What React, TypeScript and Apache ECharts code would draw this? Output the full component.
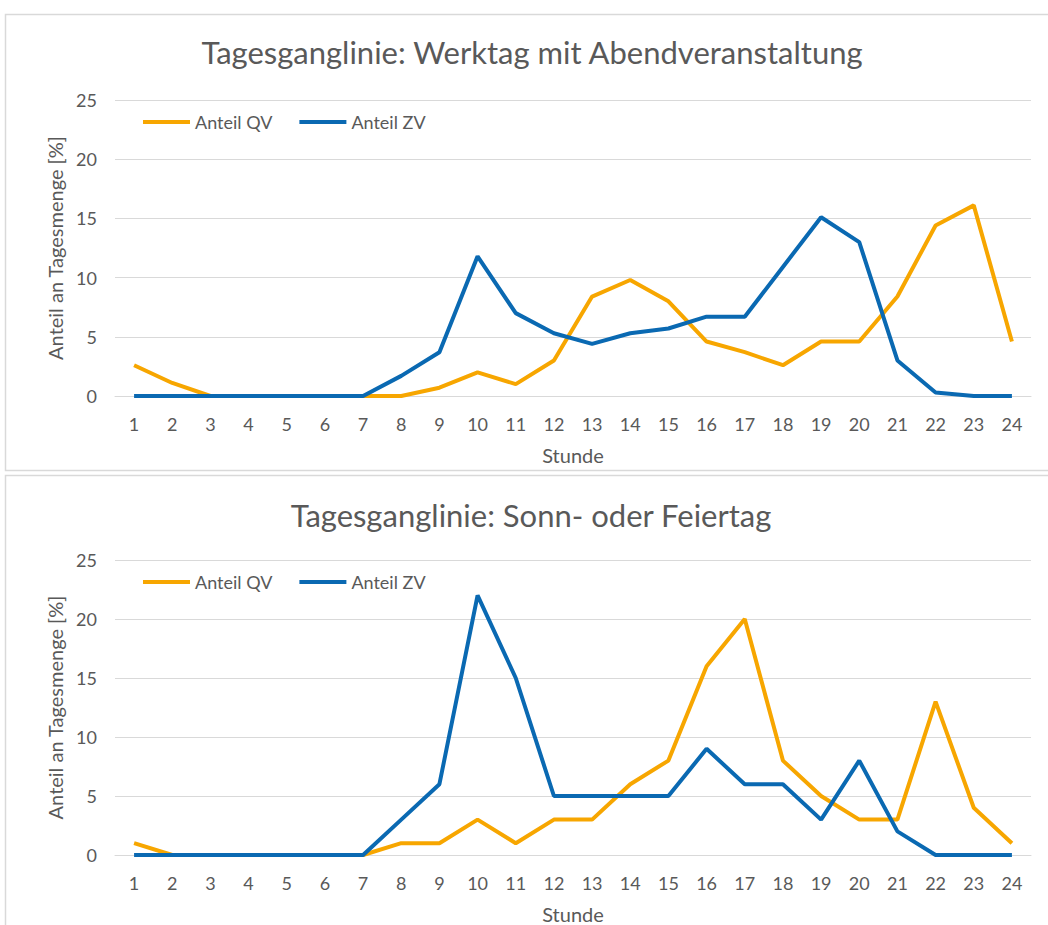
import React, { useEffect, useRef } from "react";
import * as echarts from "echarts";

const hours = ["1","2","3","4","5","6","7","8","9","10","11","12","13","14","15","16","17","18","19","20","21","22","23","24"];
const titleTop = "Tagesganglinie: Werktag mit Abendveranstaltung";
const titleBottom = "Tagesganglinie: Sonn- oder Feiertag";
const qvWerktag = [2.6, 1.1, 0, 0, 0, 0, 0, 0, 0.7, 2, 1, 3, 8.4, 9.8, 8, 4.6, 3.7, 2.6, 4.6, 4.6, 8.4, 14.4, 16.1, 4.6];
const zvWerktag = [0, 0, 0, 0, 0, 0, 0, 1.7, 3.7, 11.8, 7, 5.3, 4.4, 5.3, 5.7, 6.7, 6.7, 10.9, 15.1, 13, 3, 0.3, 0, 0];
const qvSonntag = [1, 0, 0, 0, 0, 0, 0, 1, 1, 3, 1, 3, 3, 6, 8, 16, 20, 8, 5, 3, 3, 13, 4, 1];
const zvSonntag = [0, 0, 0, 0, 0, 0, 0, 3, 6, 22, 15, 5, 5, 5, 5, 9, 6, 6, 3, 8, 2, 0, 0, 0];
const seriesNames = ["Anteil QV", "Anteil ZV"];
const yTicks = { min: 0, max: 25, interval: 5 };

const ORANGE = "#F7A600";
const BLUE = "#0A69B2";
const TXT = "#595959";
const GRID = "#d9d9d9";
const FONT = "Lato";

export default function App() {
  const ref = useRef<HTMLDivElement>(null);
  useEffect(() => {
    document.body.style.margin = "0";
    const chart = echarts.init(ref.current!, null, { renderer: "svg" });
    const grids = [
      { left: 115, top: 100, width: 916, height: 296 },
      { left: 115, top: 560, width: 916, height: 297 },
    ];
    const xAxis = grids.map((_, i) => ({
      type: "category",
      gridIndex: i,
      data: hours,
      boundaryGap: true,
      name: "Stunde",
      nameLocation: "middle",
      nameGap: 49,
      nameTextStyle: { color: TXT, fontSize: 20, fontFamily: FONT },
      axisLine: { show: true, lineStyle: { color: GRID, width: 1 } },
      axisTick: { show: false },
      axisLabel: { color: TXT, fontSize: 18, fontFamily: FONT, margin: 19 },
    }));
    const yAxis = grids.map((_, i) => ({
      type: "value",
      gridIndex: i,
      min: yTicks.min,
      max: yTicks.max,
      interval: yTicks.interval,
      name: "Anteil an Tagesmenge [%]",
      nameLocation: "middle",
      nameGap: 50,
      nameTextStyle: { color: TXT, fontSize: 20, fontFamily: FONT },
      axisLine: { show: false },
      axisTick: { show: false },
      splitLine: { lineStyle: { color: GRID, width: 1 } },
      axisLabel: { color: TXT, fontSize: 18, fontFamily: FONT, margin: 18 },
    }));
    const mk = (name: string, data: number[], color: string, idx: number) => ({
      type: "line",
      name,
      data,
      xAxisIndex: idx,
      yAxisIndex: idx,
      symbol: "none",
      color,
      lineStyle: { color, width: 4 },
    });
    const legendCommon = {
      left: 143,
      orient: "horizontal",
      icon: "rect",
      itemWidth: 47,
      itemHeight: 4,
      itemGap: 27,
      padding: 0,
      textStyle: { color: TXT, fontSize: 18, fontFamily: FONT, padding: [0, 0, 0, 0] },
      data: seriesNames,
    };
    chart.setOption({
      animation: false,
      backgroundColor: "#ffffff",
      title: [
        {
          text: titleTop, left: 532, top: 34, textAlign: "center", padding: 0,
          textStyle: { color: TXT, fontSize: 31, fontWeight: "normal", fontFamily: FONT, lineHeight: 36 },
        },
        {
          text: titleBottom, left: 531, top: 497, textAlign: "center", padding: 0,
          textStyle: { color: TXT, fontSize: 31, fontWeight: "normal", fontFamily: FONT, lineHeight: 36 },
        },
      ],
      legend: [
        { ...legendCommon, top: 113 },
        { ...legendCommon, top: 573 },
      ],
      grid: grids,
      xAxis,
      yAxis,
      series: [
        mk(seriesNames[0], qvWerktag, ORANGE, 0),
        mk(seriesNames[1], zvWerktag, BLUE, 0),
        mk(seriesNames[0], qvSonntag, ORANGE, 1),
        mk(seriesNames[1], zvSonntag, BLUE, 1),
      ],
      graphic: [
        { type: "rect", shape: { x: 5.5, y: 14.5, width: 1060, height: 456 }, style: { fill: "none", stroke: GRID, lineWidth: 1.5 }, silent: true },
        { type: "rect", shape: { x: 5.5, y: 475.5, width: 1060, height: 480 }, style: { fill: "none", stroke: GRID, lineWidth: 1.5 }, silent: true },
      ],
    });
    return () => chart.dispose();
  }, []);
  return <div ref={ref} style={{ width: 1048, height: 925 }} />;
}
